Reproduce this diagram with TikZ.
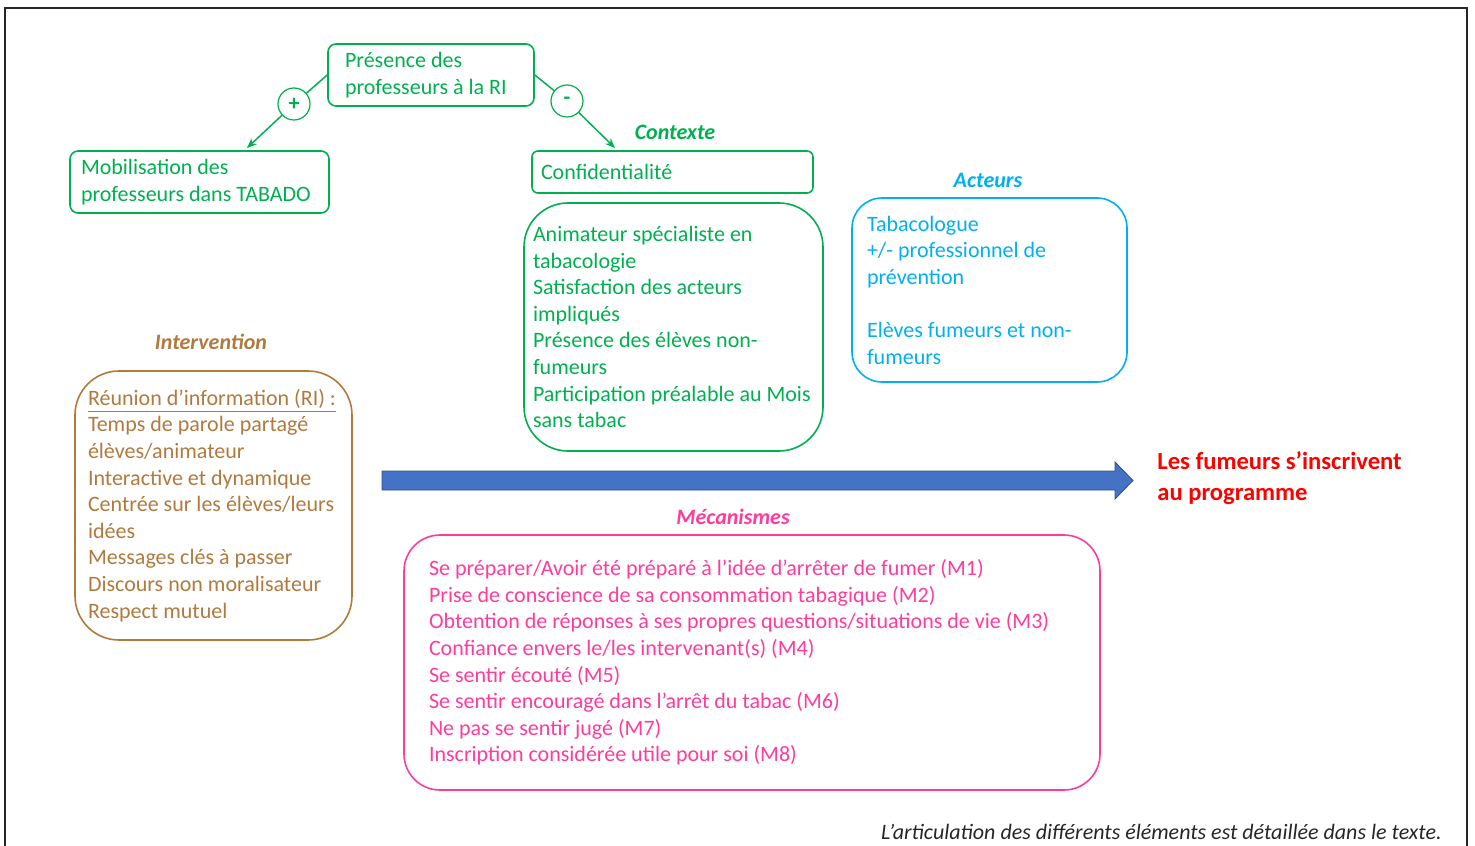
\documentclass[tikz,border=0pt]{standalone}
\usepackage{fontspec}
\setmainfont{Carlito}
\usetikzlibrary{arrows.meta}

\definecolor{vert}{HTML}{00B050}
\definecolor{brun}{HTML}{B07A3E}
\definecolor{bleuclair}{HTML}{00B0F0}
\definecolor{rose}{HTML}{FF3C9C}
\definecolor{bleufleche}{HTML}{4472C4}
\definecolor{rouge}{HTML}{FF0000}

\begin{document}
\begin{tikzpicture}[
    x=0.5pt, y=-0.5pt,
    every node/.style={font=\fontsize{11}{13.3}\selectfont},
    box/.style={rectangle, draw, line width=0.8pt, align=flush left, inner ysep=1pt},
    titre/.style={font=\fontsize{11}{13.3}\selectfont\bfseries\itshape},
    signe/.style={circle, draw=vert, fill=white, line width=0.6pt, minimum size=16pt, inner sep=0pt, text=vert, font=\fontsize{11}{13.3}\selectfont\bfseries},
    lien/.style={draw=vert, line width=0.75pt},
    ]
    \useasboundingbox (0,0) rectangle (1475,845);
    \draw[line width=1pt, black!85] (5,850) -- (5,8) -- (1467,8) -- (1467,850);

    % contexte
    \node[box, draw=vert, text=vert, rounded corners=4pt, text width=86pt, inner xsep=8.5pt, minimum height=31pt] (pres) at (431,75) {Présence des\\professeurs à la RI};
    \node[box, draw=vert, text=vert, rounded corners=4pt, text width=118.5pt, inner xsep=5.5pt, minimum height=31pt] (mob) at (199.5,182) {Mobilisation des\\professeurs dans TABADO};
    \node[box, draw=vert, text=vert, rounded corners=3pt, text width=131.5pt, inner xsep=4.5pt, minimum height=21pt] (conf) at (672.5,172) {Confidentialité};
    \node[box, draw=vert, text=vert, rounded corners=22pt, text width=140.5pt, inner xsep=4.5pt, minimum height=124pt] (ctx) at (673.5,327) {Animateur spécialiste en\\tabacologie\\Satisfaction des acteurs\\impliqués\\Présence des élèves non-\\fumeurs\\Participation préalable au Mois\\sans tabac};
    \node[titre, text=vert] (lctx) at (675,132) {Contexte};

    \node[signe] (plus) at (294,104) {+};
    \node[signe] (moins) at (567,101) {-};
    \coordinate (mobin) at (247,148);
    \coordinate (confin) at (615,148);
    \draw[lien] (pres.west) -- (plus);
    \draw[lien,-{Stealth[length=5pt,width=4pt]}] (plus) -- (mobin);
    \draw[lien] (pres.east) -- (moins);
    \draw[lien,-{Stealth[length=5pt,width=4pt]}] (moins) -- (confin);

    % acteurs
    \node[box, draw=bleuclair, text=bleuclair, rounded corners=15pt, text width=122.5pt, inner xsep=7.5pt, minimum height=92pt] (act) at (989.5,290) {Tabacologue\\+/- professionnel de\\prévention\\[13.3pt]Elèves fumeurs et non-\\fumeurs};
    \node[titre, text=bleuclair] (lact) at (988,180) {Acteurs};

    % intervention
    \node[box, draw=brun, text=brun, rounded corners=22pt, text width=125.5pt, inner xsep=6.5pt, minimum height=134.5pt] (int) at (213.5,505.5) {\underline{Réunion d’information (RI) :}\\Temps de parole partagé\\élèves/animateur\\Interactive et dynamique\\Centrée sur les élèves/leurs\\idées\\Messages clés à passer\\Discours non moralisateur\\Respect mutuel};
    \node[titre, text=brun] (lint) at (211,342) {Intervention};

    % mecanismes
    \node[box, draw=rose, text=rose, rounded corners=18pt, text width=323pt, inner xsep=12.5pt, minimum height=127.5pt] (mec) at (752,662.5) {Se préparer/Avoir été préparé à l’idée d’arrêter de fumer (M1)\\Prise de conscience de sa consommation tabagique (M2)\\Obtention de réponses à ses propres questions/situations de vie (M3)\\Confiance envers le/les intervenant(s) (M4)\\Se sentir écouté (M5)\\Se sentir encouragé dans l’arrêt du tabac (M6)\\Ne pas se sentir jugé (M7)\\Inscription considérée utile pour soi (M8)};
    \node[titre, text=rose] (lmec) at (733,517) {Mécanismes};

    % resultat
    \fill[bleufleche, draw=bleufleche!70!black, line width=0.4pt] (382,471) -- (1115,471) -- (1115,462) -- (1133,480.5) -- (1115,499) -- (1115,490) -- (382,490) -- cycle;
    \node[anchor=west, align=left, text=rouge, font=\fontsize{12.3}{15.5}\selectfont\bfseries, inner sep=0pt] (res) at (1157,478.5) {Les fumeurs s’inscrivent\\au programme};

    \node[anchor=east, font=\fontsize{11}{13.3}\selectfont\itshape, text=black!85, inner sep=0pt] (note) at (1442,832) {L’articulation des différents éléments est détaillée dans le texte.};
\end{tikzpicture}
\end{document}
